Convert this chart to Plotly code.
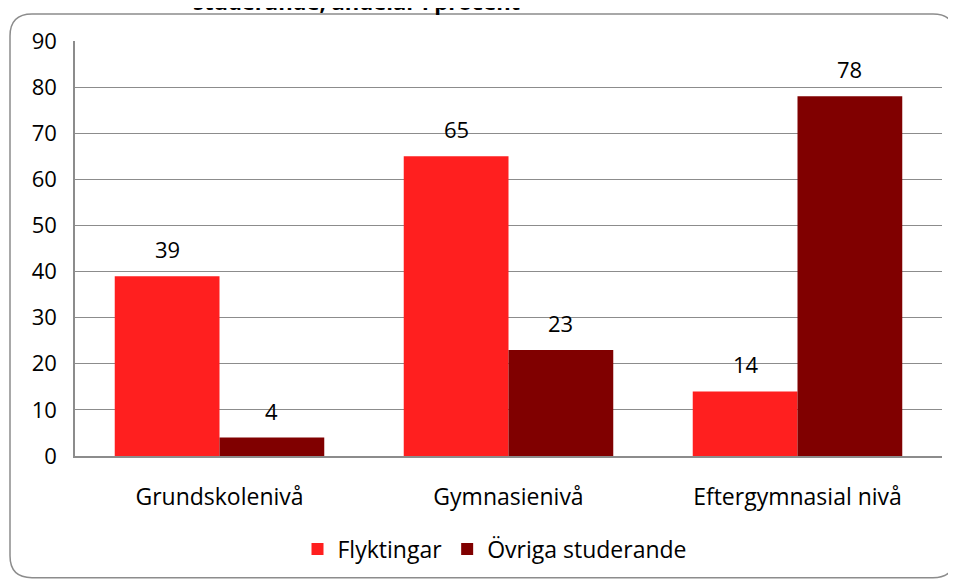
import plotly.graph_objects as go

categories = ["Grundskolenivå", "Gymnasienivå", "Eftergymnasial nivå"]
flyktingar = [39, 65, 14]
ovriga = [4, 23, 78]
series_names = ["Flyktingar", "Övriga studerande"]
series_colors = ["#FF1F1F", "#800000"]
title_text = "studerande, andelar i procent"

FONT = "'Open Sans', Lato, sans-serif"
FS_NUM = 22
FS_TXT = 23
# page is offset by the 8px body margin; compensate
OFF = 8
W, H = 956 - OFF, 581 - OFF
L, R, T, B = 75 - OFF, 14, 41 - OFF, 124
pw, ph = W - L - R, H - T - B


def px(x):  # page pixel -> paper
    return (x - OFF - L) / pw


def py(y):  # page pixel -> paper
    return (H - B - (y - OFF)) / ph


fig = go.Figure()
for name, vals, col in zip(series_names, [flyktingar, ovriga], series_colors):
    fig.add_trace(go.Bar(x=categories, y=vals, name=name,
                         marker=dict(color=col, line=dict(width=0))))

annotations = []
for vals, shift in [(flyktingar, -52), (ovriga, 52)]:
    for c, v in zip(categories, vals):
        annotations.append(dict(x=c, y=v, xref="x", yref="y", text=str(v),
                                showarrow=False, xshift=shift, yshift=27,
                                yanchor="middle", xanchor="center",
                                font=dict(size=FS_NUM, family=FONT, color="#000000")))

annotations.append(dict(text="<b>" + title_text + "</b>", xref="paper", yref="paper",
                        x=px(356), y=py(1), xanchor="center", yanchor="middle",
                        showarrow=False, font=dict(size=FS_NUM, family=FONT, color="#000000")))

# rounded frame
x0, x1, y0, y1, r = 10, 955, 14, 579, 22
path = (f"M {px(x0)},{py(y0 + r)} "
        f"Q {px(x0)},{py(y0)} {px(x0 + r)},{py(y0)} "
        f"L {px(x1 - r)},{py(y0)} "
        f"Q {px(x1)},{py(y0)} {px(x1)},{py(y0 + r)} "
        f"L {px(x1)},{py(y1 - r)} "
        f"Q {px(x1)},{py(y1)} {px(x1 - r)},{py(y1)} "
        f"L {px(x0 + r)},{py(y1)} "
        f"Q {px(x0)},{py(y1)} {px(x0)},{py(y1 - r)} Z")

fig.update_layout(
    width=W, height=H,
    margin=dict(l=L, r=R, t=T, b=B),
    paper_bgcolor="white", plot_bgcolor="white",
    barmode="group", bargap=0.275, bargroupgap=0,
    font=dict(family=FONT, size=FS_TXT, color="#000000"),
    showlegend=True,
    legend=dict(orientation="h", x=px(495), xanchor="center", y=py(549), yanchor="middle",
                font=dict(size=FS_TXT, family=FONT), itemwidth=30, traceorder="normal"),
    shapes=[dict(type="path", xref="paper", yref="paper", path=path,
                 line=dict(color="#8C8C8C", width=1.5), layer="below")],
    annotations=annotations,
    xaxis=dict(showline=True, linecolor="#8C8C8C", linewidth=1.5, ticks="",
               tickfont=dict(size=FS_TXT, family=FONT), ticklabelstandoff=20),
    yaxis=dict(range=[0, 90], dtick=10, showgrid=True, gridcolor="#8C8C8C", gridwidth=1,
               showline=True, linecolor="#8C8C8C", linewidth=1.5, ticks="",
               zeroline=False, tickfont=dict(size=FS_NUM, family=FONT), ticklabelstandoff=12),
)

fig.write_html("out.html")
